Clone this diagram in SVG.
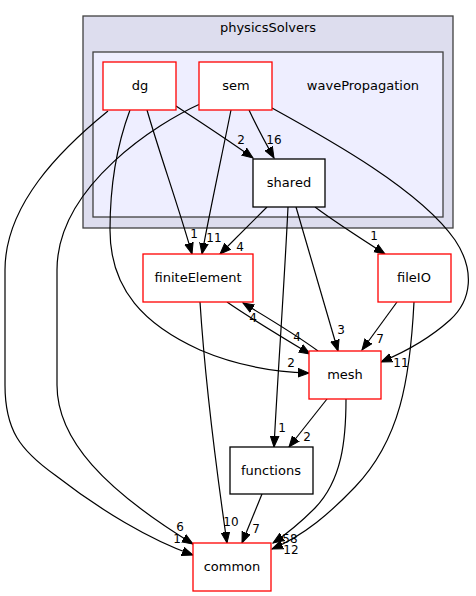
<svg xmlns="http://www.w3.org/2000/svg" width="476" height="596" viewBox="0 0 476 596">
<defs>
<marker id="arr" markerWidth="12" markerHeight="10" refX="11" refY="5" orient="auto" markerUnits="userSpaceOnUse"><path d="M0,0.7 L11,5 L0,9.3 Z" fill="#000" stroke="#000" stroke-width="1"/></marker>
</defs>
<style>
text{font-family:"DejaVu Sans","Liberation Sans",sans-serif;fill:#000}
.n{font-size:13px;text-anchor:middle}
.l{font-size:12px;text-anchor:middle}
.red{fill:#fff;stroke:#ff0000;stroke-width:1.3}
.blk{fill:#fff;stroke:#000;stroke-width:1.3}
.e{fill:none;stroke:#000;stroke-width:1.2;marker-end:url(#arr)}
</style>
<rect width="476" height="596" fill="#fff"/>
<g id="cluster_physicsSolvers">
<rect x="83" y="16" width="370" height="212" fill="#ddddee" stroke="#404040" stroke-width="1.3"/>
<text class="n" x="268" y="32">physicsSolvers</text>
</g>
<g id="cluster_wavePropagation">
<rect x="93" y="52" width="350" height="165" fill="#eeeeff" stroke="#404040" stroke-width="1.3"/>
<text class="n" x="363" y="90">wavePropagation</text>
</g>
<g id="edges">
<path class="e" d="M176,106 C200,122 228,140 253,158"/>
<path class="e" d="M249,110 C256,125 265,142 274,158"/>
<path class="e" d="M147,110 C160,155 178,205 192,254"/>
<path class="e" d="M231,110 C222,155 210,210 202,254"/>
<path class="e" d="M267,207 L220,254"/>
<path class="e" d="M315,207 C335,222 360,238 385,254"/>
<path class="e" d="M296,207 L338,351"/>
<path class="e" d="M288,207 C284,290 278,370 274,447"/>
<path class="e" d="M227,302 C250,318 280,336 310,354"/>
<path class="e" d="M318,351 C295,334 268,318 243,303"/>
<path class="e" d="M397,302 L362,350"/>
<path class="e" d="M327,399 L289,447"/>
<path class="e" d="M200,302 C205,380 215,460 227,543"/>
<path class="e" d="M262,494 L242,543"/>
<path class="e" d="M346,399 C346,440 342,480 315,508 C300,523 288,533 273,543"/>
<path class="e" d="M414,302 C410,380 400,440 355,487 C330,513 305,535 272,549"/>
<path class="e" d="M130,110 C115,150 110,190 110,230 C110,290 145,325 200,350 C235,365 275,372 309,373"/>
<path class="e" d="M272,108 C330,140 420,190 455,240 C475,270 472,300 450,320 C430,338 405,352 381,362"/>
<path class="e" d="M108,111 C60,150 5,205 5,270 L5,385 C5,430 20,450 55,475 C100,510 150,540 193,555"/>
<path class="e" d="M200,104 C160,122 57,185 57,270 L57,385 C57,440 105,490 193,544"/>
<text class="l" x="241" y="144">2</text>
<text class="l" x="274" y="144">16</text>
<text class="l" x="194" y="238">1</text>
<text class="l" x="214" y="242">11</text>
<text class="l" x="240" y="251">4</text>
<text class="l" x="374" y="240">1</text>
<text class="l" x="253" y="322">4</text>
<text class="l" x="297" y="341">4</text>
<text class="l" x="341" y="334">3</text>
<text class="l" x="380" y="343">7</text>
<text class="l" x="291" y="367">2</text>
<text class="l" x="401" y="367">11</text>
<text class="l" x="282" y="432">1</text>
<text class="l" x="307" y="441">2</text>
<text class="l" x="180" y="531">6</text>
<text class="l" x="177" y="543">1</text>
<text class="l" x="231" y="526">10</text>
<text class="l" x="256" y="533">7</text>
<text class="l" x="290" y="543">58</text>
<text class="l" x="291" y="554">12</text>
</g>
<g id="node_dg"><rect class="red" x="103" y="62" width="73" height="48"/><text class="n" x="140" y="90">dg</text></g>
<g id="node_sem"><rect class="red" x="199" y="62" width="73" height="48"/><text class="n" x="236" y="90">sem</text></g>
<g id="node_shared"><rect class="blk" x="253" y="159" width="72" height="48"/><text class="n" x="289" y="187">shared</text></g>
<g id="node_finiteElement"><rect class="red" x="143" y="254" width="110" height="48"/><text class="n" x="198" y="282">finiteElement</text></g>
<g id="node_fileIO"><rect class="red" x="378" y="254" width="73" height="48"/><text class="n" x="414" y="282">fileIO</text></g>
<g id="node_mesh"><rect class="red" x="309" y="351" width="72" height="48"/><text class="n" x="345" y="379">mesh</text></g>
<g id="node_functions"><rect class="blk" x="230" y="447" width="83" height="47"/><text class="n" x="271" y="475">functions</text></g>
<g id="node_common"><rect class="red" x="193" y="543" width="78" height="48"/><text class="n" x="232" y="571">common</text></g>
</svg>
